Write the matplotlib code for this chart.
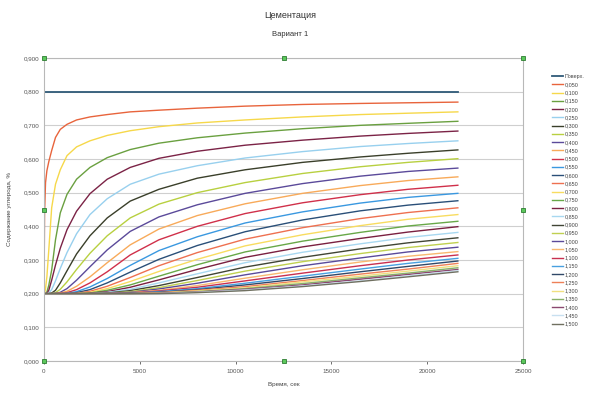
import matplotlib
matplotlib.use("Agg")
import matplotlib.pyplot as plt
from matplotlib.ticker import FuncFormatter, MultipleLocator

plt.rcParams['font.family'] = ['Liberation Sans', 'DejaVu Sans']

# ---------------------------------------------------------------------------
# Data
# ---------------------------------------------------------------------------
time_s = [0, 30, 80, 150, 250, 400, 600, 850, 1200, 1700,
          2400, 3300, 4500, 6000, 8000, 10500, 13500, 16500, 19000, 21600]

surface_time = [0, 21600]
surface = [0.800, 0.800]

depth_labels = ["0,050", "0,100", "0,150", "0,200", "0,250", "0,300",
                "0,350", "0,400", "0,450", "0,500", "0,550", "0,600",
                "0,650", "0,700", "0,750", "0,800", "0,850", "0,900",
                "0,950", "1,000", "1,050", "1,100", "1,150", "1,200",
                "1,250", "1,300", "1,350", "1,400", "1,450", "1,500"]

# carbon content, % — one row per depth, columns follow time_s
carbon = [
    [0.200, 0.440, 0.530, 0.565, 0.592, 0.625, 0.664, 0.688, 0.703, 0.716, 0.725, 0.732, 0.740, 0.745, 0.751, 0.757, 0.762, 0.765, 0.767, 0.769],
    [0.200, 0.200, 0.215, 0.250, 0.330, 0.455, 0.525, 0.568, 0.610, 0.636, 0.654, 0.670, 0.684, 0.696, 0.707, 0.716, 0.725, 0.732, 0.736, 0.740],
    [0.200, 0.200, 0.200, 0.205, 0.225, 0.270, 0.360, 0.440, 0.495, 0.540, 0.575, 0.604, 0.628, 0.647, 0.663, 0.677, 0.690, 0.700, 0.706, 0.712],
    [0.200, 0.200, 0.200, 0.201, 0.210, 0.240, 0.285, 0.335, 0.390, 0.445, 0.497, 0.540, 0.575, 0.602, 0.623, 0.641, 0.656, 0.668, 0.676, 0.683],
    [0.200, 0.200, 0.200, 0.200, 0.202, 0.212, 0.238, 0.275, 0.322, 0.378, 0.435, 0.482, 0.525, 0.555, 0.580, 0.603, 0.622, 0.637, 0.646, 0.654],
    [0.200, 0.200, 0.200, 0.200, 0.200, 0.202, 0.210, 0.232, 0.268, 0.318, 0.372, 0.425, 0.475, 0.510, 0.543, 0.568, 0.590, 0.606, 0.617, 0.627],
    [0.200, 0.200, 0.200, 0.200, 0.200, 0.200, 0.203, 0.213, 0.235, 0.272, 0.320, 0.372, 0.425, 0.466, 0.500, 0.530, 0.557, 0.577, 0.590, 0.601],
    [0.200, 0.200, 0.200, 0.200, 0.200, 0.200, 0.201, 0.204, 0.215, 0.240, 0.280, 0.330, 0.385, 0.428, 0.464, 0.498, 0.527, 0.549, 0.563, 0.573],
    [0.200, 0.200, 0.200, 0.200, 0.200, 0.200, 0.200, 0.202, 0.207, 0.222, 0.250, 0.292, 0.345, 0.392, 0.432, 0.467, 0.498, 0.521, 0.536, 0.547],
    [0.200, 0.200, 0.200, 0.200, 0.200, 0.200, 0.200, 0.201, 0.203, 0.212, 0.232, 0.265, 0.315, 0.360, 0.400, 0.438, 0.470, 0.494, 0.510, 0.522],
    [0.200, 0.200, 0.200, 0.200, 0.200, 0.200, 0.200, 0.200, 0.201, 0.206, 0.220, 0.245, 0.284, 0.328, 0.369, 0.410, 0.443, 0.469, 0.486, 0.498],
    [0.200, 0.200, 0.200, 0.200, 0.200, 0.200, 0.200, 0.200, 0.200, 0.203, 0.212, 0.232, 0.264, 0.302, 0.343, 0.384, 0.419, 0.446, 0.463, 0.476],
    [0.200, 0.200, 0.200, 0.200, 0.200, 0.200, 0.200, 0.200, 0.200, 0.201, 0.207, 0.222, 0.248, 0.283, 0.322, 0.362, 0.396, 0.423, 0.441, 0.455],
    [0.200, 0.200, 0.200, 0.200, 0.200, 0.200, 0.200, 0.200, 0.200, 0.200, 0.204, 0.215, 0.236, 0.266, 0.302, 0.342, 0.375, 0.402, 0.421, 0.435],
    [0.200, 0.200, 0.200, 0.200, 0.200, 0.200, 0.200, 0.200, 0.200, 0.200, 0.202, 0.210, 0.226, 0.252, 0.286, 0.324, 0.356, 0.382, 0.401, 0.415],
    [0.200, 0.200, 0.200, 0.200, 0.200, 0.200, 0.200, 0.200, 0.200, 0.200, 0.201, 0.206, 0.219, 0.241, 0.272, 0.308, 0.339, 0.364, 0.383, 0.399],
    [0.200, 0.200, 0.200, 0.200, 0.200, 0.200, 0.200, 0.200, 0.200, 0.200, 0.200, 0.204, 0.213, 0.232, 0.259, 0.292, 0.323, 0.348, 0.367, 0.382],
    [0.200, 0.200, 0.200, 0.200, 0.200, 0.200, 0.200, 0.200, 0.200, 0.200, 0.200, 0.202, 0.209, 0.224, 0.248, 0.279, 0.308, 0.333, 0.351, 0.366],
    [0.200, 0.200, 0.200, 0.200, 0.200, 0.200, 0.200, 0.200, 0.200, 0.200, 0.200, 0.201, 0.206, 0.218, 0.239, 0.267, 0.295, 0.319, 0.337, 0.352],
    [0.200, 0.200, 0.200, 0.200, 0.200, 0.200, 0.200, 0.200, 0.200, 0.200, 0.200, 0.201, 0.204, 0.214, 0.231, 0.256, 0.283, 0.306, 0.324, 0.338],
    [0.200, 0.200, 0.200, 0.200, 0.200, 0.200, 0.200, 0.200, 0.200, 0.200, 0.200, 0.200, 0.203, 0.210, 0.224, 0.246, 0.271, 0.294, 0.311, 0.325],
    [0.200, 0.200, 0.200, 0.200, 0.200, 0.200, 0.200, 0.200, 0.200, 0.200, 0.200, 0.200, 0.202, 0.208, 0.219, 0.238, 0.261, 0.283, 0.300, 0.315],
    [0.200, 0.200, 0.200, 0.200, 0.200, 0.200, 0.200, 0.200, 0.200, 0.200, 0.200, 0.200, 0.201, 0.206, 0.215, 0.231, 0.252, 0.273, 0.290, 0.305],
    [0.200, 0.200, 0.200, 0.200, 0.200, 0.200, 0.200, 0.200, 0.200, 0.200, 0.200, 0.200, 0.201, 0.204, 0.212, 0.226, 0.245, 0.265, 0.281, 0.297],
    [0.200, 0.200, 0.200, 0.200, 0.200, 0.200, 0.200, 0.200, 0.200, 0.200, 0.200, 0.200, 0.200, 0.203, 0.210, 0.221, 0.239, 0.258, 0.273, 0.290],
    [0.200, 0.200, 0.200, 0.200, 0.200, 0.200, 0.200, 0.200, 0.200, 0.200, 0.200, 0.200, 0.200, 0.202, 0.208, 0.217, 0.235, 0.252, 0.267, 0.283],
    [0.200, 0.200, 0.200, 0.200, 0.200, 0.200, 0.200, 0.200, 0.200, 0.200, 0.200, 0.200, 0.200, 0.201, 0.206, 0.215, 0.230, 0.247, 0.261, 0.277],
    [0.200, 0.200, 0.200, 0.200, 0.200, 0.200, 0.200, 0.200, 0.200, 0.200, 0.200, 0.200, 0.200, 0.201, 0.205, 0.213, 0.226, 0.243, 0.257, 0.272],
    [0.200, 0.200, 0.200, 0.200, 0.200, 0.200, 0.200, 0.200, 0.200, 0.200, 0.200, 0.200, 0.200, 0.200, 0.204, 0.211, 0.223, 0.238, 0.253, 0.268],
    [0.200, 0.200, 0.200, 0.200, 0.200, 0.200, 0.200, 0.200, 0.200, 0.200, 0.200, 0.200, 0.200, 0.200, 0.203, 0.209, 0.221, 0.236, 0.250, 0.265],
]

surface_color = "#2f5a78"
colors = ["#e8643c", "#f6d84a", "#6aa040", "#7b2346", "#98d0ee", "#3a3f2a",
          "#b8d040", "#5b4a9a", "#f8aa5a", "#d0304a", "#3a98e0", "#2a4f78",
          "#ee7050", "#f8dc60", "#68a848", "#7a2040", "#a8d8f0", "#404535",
          "#c0d050", "#5a4a9a", "#f8b870", "#c83050", "#48a0e0", "#304868",
          "#ee8058", "#f0e080", "#88b068", "#8a4870", "#c8e0f0", "#707060"]

# ---------------------------------------------------------------------------
# Figure
# ---------------------------------------------------------------------------
fig = plt.figure(figsize=(5.89, 3.94), dpi=100)
ax = fig.add_axes([44 / 589, 1 - 361 / 394, (523 - 44) / 589, (361 - 58) / 394])

ax.plot(surface_time, surface, color=surface_color, lw=1.3, label="Поверх.")
for row, lab, col in zip(carbon, depth_labels, colors):
    ax.plot(time_s, row, color=col, lw=1.0, label=lab)

ax.set_xlim(0, 25000)
ax.set_ylim(0, 0.9)
ax.xaxis.set_major_locator(MultipleLocator(5000))
ax.yaxis.set_major_locator(MultipleLocator(0.1))
ax.yaxis.set_major_formatter(FuncFormatter(lambda v, p: f"{v:.3f}".replace(".", ",")))
ax.grid(axis="y", color="#cfcfcf", lw=0.8)
ax.set_axisbelow(True)
for s in ax.spines.values():
    s.set_color("#b8b8b8")
    s.set_linewidth(0.8)
ax.tick_params(labelsize=4.5, colors="#555555", length=2, width=0.6)
ax.tick_params(axis="y", length=0)

ax.set_xlabel("Время, сек", fontsize=4.5, color="#444444", labelpad=6)
ax.set_ylabel("Содержание углерода, %", fontsize=4.5, color="#444444", labelpad=8)

fig.text(290 / 589, 1 - 16 / 394, "Цементация", ha="center", va="center",
         fontsize=6.5, color="#333333")
fig.text(290 / 589, 1 - 34 / 394, "Вариант 1", ha="center", va="center",
         fontsize=5.5, color="#333333")

# selection handles around the plot area
for hx, hy in [(0, 0), (0.5, 0), (1, 0), (0, 0.5), (1, 0.5), (0, 1), (0.5, 1), (1, 1)]:
    ax.plot(hx, hy, "s", ms=3.5, mfc="#5cc85c", mec="#2e7d32", mew=0.6,
            transform=ax.transAxes, clip_on=False, zorder=10)

leg = fig.legend(loc="upper left", bbox_to_anchor=(552 / 589, 1 - 74 / 394),
                 frameon=False, fontsize=3.9, handlelength=2.0, handletextpad=0.4,
                 labelspacing=0.6, borderpad=0, borderaxespad=0)
for t in leg.get_texts():
    t.set_color("#444444")

fig.savefig("out.png", dpi=100)
